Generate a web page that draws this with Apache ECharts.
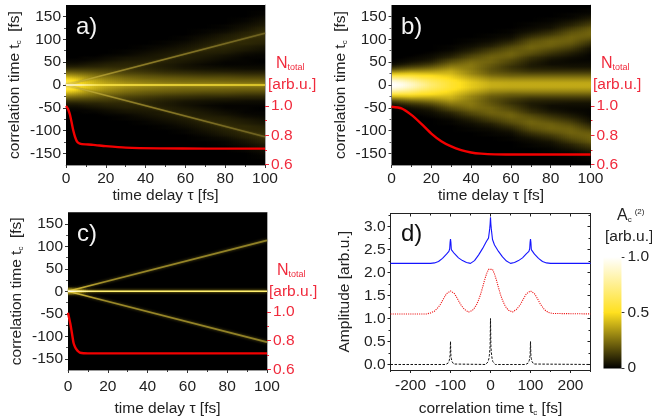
<!DOCTYPE html>
<html><head><meta charset="utf-8">
<style>html,body{margin:0;padding:0;background:#fff}#c{width:652px;height:418px}</style>
<script src="https://cdn.jsdelivr.net/npm/echarts@6/dist/echarts.min.js"></script>
</head><body><div id="c"></div>
<script>
// ---------- shared axes ----------
const tauColumns = [0,5,10,15,20,30,40,50,60,70,80,90,100];
const tcStep = 5; // rows of the profiles start at t_c = 0 and step by this
const tauTicks = [0,20,40,60,80,100];
const tauMinor = [10,30,50,70,90];
const tcTicks = [-150,-100,-50,0,50,100,150];
const tcMinor = [-125,-75,-25,25,75,125];
const nTicks = [0.6,0.8,1.0];
const nMinor = [0.7,0.9];
const dXTicks = [-200,-100,0,100,200];
const dXMinor = [-250,-150,-50,50,150,250];
const dYTicks = [0,0.5,1,1.5,2,2.5,3];
const dYMinor = [0.25,0.75,1.25,1.75,2.25,2.75,3.25];
const colorStops = [[0,'#000000'],[0.5,'#ffe01e'],[1,'#ffffff']];

// ---------- heat map profiles: one list per tauColumns entry, percent of full scale, t_c = 0,5,10... (mirrored for t_c<0) ----------
const heatA = [
 [65,62,55,46,36,27,19,12,7,4,2,1],
 [56,54,49,41,33,25,18,12,7,4,2,1],
 [46,45,41,35,29,23,17,12,8,5,3,1,1],
 [40,39,36,31,26,21,16,12,8,6,4,2,1],
 [36,35,32,28,24,19,15,12,9,7,5,3,2,1],
 [31,30,27,24,20,16,13,11,9,8,7,5,4,2,1,1],
 [28,27,25,21,18,14,11,9,8,8,7,6,5,4,3,2,1,1],
 [26,25,23,20,16,12,9,7,6,6,7,7,6,6,5,4,3,2,1,1],
 [25,24,22,19,15,11,8,5,4,4,5,6,7,7,7,6,5,4,3,2,1,1],
 [25,24,22,18,14,10,7,4,3,2,3,4,5,6,7,8,8,7,6,5,4,3,2,1,1],
 [24,24,21,18,14,10,6,4,2,1,1,2,3,4,6,7,8,9,9,8,7,6,5,3,2,1,1],
 [24,23,21,17,13,9,6,3,2,1,1,1,1,2,3,5,6,7,9,9,9,9,8,7,5,4,3,2,1,1],
 [24,23,21,17,13,9,6,3,2,1,0,0,1,1,2,3,4,5,7,8,9,10,10,10,9,8,6,5,4,3,2,1,1]
];
const heatB = [
 [100,97,88,74,58,42,28,16,8,3,1],
 [97,93,84,71,57,43,30,19,11,5,2,1],
 [88,85,77,67,56,44,33,22,14,8,4,2,1],
 [78,75,69,60,52,43,33,24,16,10,6,3,2,1],
 [68,66,62,56,50,42,34,26,19,13,8,5,3,2,1],
 [54,54,52,48,45,41,38,33,28,23,18,14,9,6,4,2,1,1],
 [45,45,42,38,34,30,29,27,27,26,24,21,17,14,10,7,5,3,2,1,1],
 [39,38,34,30,25,21,19,18,19,20,22,22,22,20,17,14,11,7,5,3,2,1,1],
 [38,37,33,28,22,18,14,12,11,13,15,17,20,22,22,20,18,15,11,8,5,3,2,1,1],
 [38,37,33,28,22,16,11,8,6,6,7,9,11,15,18,20,22,22,20,18,15,11,8,5,3,2,1,1],
 [38,37,33,28,22,16,11,7,5,3,3,4,6,9,12,15,18,21,22,22,20,17,13,10,7,4,3,2,1,1],
 [38,37,33,28,22,16,11,7,4,3,2,2,3,5,7,10,13,16,19,21,22,22,20,18,15,12,8,6,4,2,1,1],
 [38,37,33,28,22,16,11,7,4,3,2,1,1,1,2,3,4,7,10,13,17,20,22,22,21,19,15,12,9,6,4,2,1,1]
];
const heatC = [
 [85,30,3],[60,12,1],[10,1],[2],[],[],[],[],[],[],[],[],[]
];

// ---------- ridges (thin lines of the maps): tau, t_c ----------
const ridgeTau = [0,100];
const ridgeUpperA = [0,113];
const ridgeLowerA = [0,-113];
const ridgeCentre = [0,0];
const ridgeUpperC = [0,113];
const ridgeLowerC = [0,-113];

// ---------- N_total curves ----------
const nTauA = [0,0.3,1,2,3,3.7,4.5,5.4,6.2,7,8,10,13.7,20,30,47,70,100];
const nValA = [1.0,0.995,0.98,0.94,0.875,0.83,0.79,0.76,0.748,0.742,0.739,0.737,0.734,0.725,0.715,0.71,0.708,0.708];
const nTauB = [0,5,10,15,20,25,30,35,40,45,52,60,100];
const nValB = [0.995,0.984,0.939,0.878,0.811,0.759,0.723,0.698,0.682,0.674,0.669,0.668,0.668];
const nTauC = [0,1.15,2,2.8,3.6,4.5,5.3,6.2,7.8,10,100];
const nValC = [0.995,0.919,0.85,0.784,0.755,0.735,0.724,0.716,0.713,0.712,0.712];

// ---------- panel d ----------
const blackT = [-250,-112,-108,-106,-104,-103,-102,-101,-100,-99,-98,-97,-96,-94,-92,-88,-12,-8,-6,-4,-3,-2,-1,0,1,2,3,4,6,8,12,88,92,94,96,97,98,99,100,101,102,103,104,106,108,112,250];
const blackA = [0,0,0.01,0.03,0.06,0.09,0.13,0.2,0.5,0.2,0.13,0.09,0.06,0.03,0.01,0,0,0.03,0.06,0.13,0.19,0.27,0.4,1,0.4,0.27,0.19,0.13,0.06,0.03,0,0,0.01,0.03,0.06,0.09,0.13,0.2,0.5,0.2,0.13,0.09,0.06,0.03,0.01,0,0];
const redT = [-250,-160,-155,-150,-145,-140,-135,-130,-125,-120,-115,-110,-105,-100,-95,-90,-85,-80,-75,-70,-65,-60,-55,-50,-45,-40,-35,-30,-25,-20,-15,-10,-5,0,5,10,15,20,25,30,35,40,45,50,55,60,65,70,75,80,85,90,95,100,105,110,115,120,125,130,135,140,145,150,155,160,250];
const redA = [1.1,1.1,1.11,1.12,1.13,1.16,1.19,1.25,1.31,1.39,1.47,1.54,1.58,1.6,1.58,1.54,1.47,1.39,1.31,1.25,1.2,1.16,1.14,1.14,1.18,1.23,1.3,1.4,1.52,1.67,1.83,1.97,2.07,2.1,2.07,1.97,1.83,1.67,1.52,1.4,1.3,1.23,1.18,1.14,1.14,1.16,1.2,1.25,1.31,1.39,1.47,1.54,1.58,1.6,1.58,1.54,1.47,1.39,1.31,1.25,1.19,1.16,1.13,1.12,1.11,1.1,1.1];
const blueT = [-250,-150,-140,-130,-120,-110,-104,-102,-101,-100,-99,-98,-96,-90,-80,-70,-60,-50,-40,-30,-20,-10,-5,-2,-1,0,1,2,5,10,20,30,40,50,60,70,80,90,96,98,99,100,101,102,104,110,120,130,140,150,250];
const blueA = [2.2,2.2,2.21,2.24,2.31,2.4,2.46,2.52,2.66,2.73,2.66,2.5,2.46,2.41,2.32,2.26,2.22,2.2,2.26,2.38,2.52,2.68,2.75,2.95,3.05,3.2,3.05,2.95,2.72,2.6,2.46,2.34,2.25,2.2,2.22,2.26,2.32,2.41,2.46,2.52,2.66,2.73,2.66,2.5,2.46,2.4,2.31,2.24,2.21,2.2,2.2];

// ---------- text ----------
const tauName = 'time delay \u03c4 [fs]';
const tcName = 'correlation time t{s|c}  [fs]';
const ampName = 'Amplitude [arb.u.]';
const dXName = 'correlation time t{s|c} [fs]';

// ---------- helpers ----------
const FONT = '"Liberation Sans", Arial, sans-serif';
const INK = '#222222', RED = '#f02a3c', FS = 15.5;
const rich = {s:{fontSize:8,fontFamily:FONT,color:INK,verticalAlign:'bottom',padding:[7,0,0,0]}};
function mix(a,b,t){return Math.round(a+(b-a)*t);}
function hex(c){return [1,3,5].map(i=>parseInt(c.substr(i,2),16));}
function heat(v){
  v=Math.max(0,Math.min(1,v));
  for(let i=1;i<colorStops.length;i++){
    if(v<=colorStops[i][0]){
      const a=colorStops[i-1],b=colorStops[i],t=(v-a[0])/(b[0]-a[0]);
      const ca=hex(a[1]),cb=hex(b[1]);
      return 'rgb('+mix(ca[0],cb[0],t)+','+mix(ca[1],cb[1],t)+','+mix(ca[2],cb[2],t)+')';
    }
  }
  return colorStops[colorStops.length-1][1];
}
const ROWS=35;
// one column span of the map, painted as thin pixel-aligned strips with a vertical colour ramp
function makeRenderer(profiles){
  return function(p,api){
    const c=api.value(2);
    const a=api.coord([api.value(0),(ROWS+0.5)*tcStep]);
    const b=api.coord([api.value(1),-(ROWS+0.5)*tcStep]);
    const x0=Math.round(a[0]),x1=Math.round(b[0]),n=Math.max(1,Math.round((x1-x0)/2)),children=[];
    const step=(x1-x0)/n;
    for(let j=0;j<n;j++){
      const t=(j+0.5)/n,stops=[];
      for(let r=-ROWS;r<=ROWS;r++){
        const k=Math.abs(r),v=(profiles[c][k]||0)*(1-t)+(profiles[c+1][k]||0)*t;
        stops.push({offset:(r+ROWS+0.5)/(2*ROWS+1),color:heat(v/100)});
      }
      const xa=Math.round(x0+step*j),xb=Math.round(x0+step*(j+1));
      children.push({type:'rect',shape:{x:xa,y:a[1],width:xb-xa,height:b[1]-a[1]},
        style:{fill:{type:'linear',x:0,y:0,x2:0,y2:1,colorStops:stops}}});
    }
    return {type:'group',children:children};
  };
}
function hGrad(stops){return {type:'linear',x:0,y:0,x2:1,y2:0,colorStops:stops.map(s=>({offset:s[0],color:s[1]}))};}
const pairs=(xs,ys)=>xs.map((x,i)=>[x,ys[i]]);

const grids=[],xAxes=[],yAxes=[],series=[];
function baseAxis(g,o){
  return Object.assign({gridIndex:g,type:'value',splitLine:{show:false},scale:false,
    axisLine:{show:false,onZero:false},axisTick:{show:false},axisLabel:{show:false}},o);
}
function ticks(values,len,color,inside){return {show:true,customValues:values,length:len,inside:!!inside,lineStyle:{color:color,width:1}};}
function labels(values,color,margin,fmt){
  return {show:true,customValues:values,color:color,fontSize:FS,fontFamily:FONT,margin:margin,formatter:fmt,showMinLabel:true,showMaxLabel:true,hideOverlap:false};
}
function heatPanel(g,rect,profiles,ridges,nT,nV){
  grids.push(Object.assign({show:true,backgroundColor:'#000',borderWidth:0},rect));
  const xi=xAxes.length;
  xAxes.push(baseAxis(g,{min:0,max:100,position:'bottom',
    axisLine:{show:true,onZero:false,lineStyle:{color:'#999'}},
    axisTick:ticks(tauTicks,3,'#333'),axisLabel:labels(tauTicks,INK,rect.labelMargin),
    name:tauName,nameLocation:'middle',nameGap:rect.nameGap,
    nameTextStyle:{color:INK,fontSize:FS,fontFamily:FONT}}));
  xAxes.push(baseAxis(g,{min:0,max:100,position:'bottom',axisTick:ticks(tauMinor,2,'#333')}));
  const yi=yAxes.length;
  yAxes.push(baseAxis(g,{min:-175,max:175,position:'left',
    axisTick:ticks(tcTicks,3,'#333'),axisLabel:labels(tcTicks,INK,5),
    name:tcName,nameLocation:'middle',nameGap:43,
    nameTextStyle:{color:INK,fontSize:FS,fontFamily:FONT,rich:rich}}));
  yAxes.push(baseAxis(g,{min:-175,max:175,position:'left',axisTick:ticks(tcMinor,2,'#555')}));
  yAxes.push(baseAxis(g,{min:0.596,max:1.692,position:'right',
    axisLine:{show:true,onZero:false,lineStyle:{color:'#aaa'}},
    axisTick:ticks(nTicks,4,RED),axisLabel:labels(nTicks,RED,6,v=>v.toFixed(1))}));
  yAxes.push(baseAxis(g,{min:0.596,max:1.692,position:'right',axisTick:ticks(nMinor,2,RED)}));
  series.push({type:'custom',xAxisIndex:xi,yAxisIndex:yi,clip:true,silent:true,progressive:0,
    renderItem:makeRenderer(profiles),encode:{x:[0,1]},
    data:tauColumns.slice(0,-1).map((t,c)=>[t,tauColumns[c+1],c]),animation:false});
  ridges.forEach(r=>series.push({type:'line',xAxisIndex:xi,yAxisIndex:yi,silent:true,showSymbol:false,clip:true,
    data:pairs(ridgeTau,r.tc),z:3,
    lineStyle:{width:r.width,color:hGrad(r.stops),shadowBlur:r.blur,shadowColor:r.glow}}));
  series.push({type:'line',xAxisIndex:xi,yAxisIndex:yi+2,silent:true,showSymbol:false,clip:false,smooth:0.2,
    data:pairs(nT,nV),z:4,lineStyle:{width:2.4,color:'#f20000'}});
}

const diagA=[[0,'#ffe860'],[0.08,'#c8b232'],[0.3,'#907f28'],[1,'#6c6020']];
const centreA=[[0,'#ffffff'],[0.08,'#fff6c0'],[0.18,'#ffe94a'],[1,'#ecd42e']];
const diagC=[[0,'#ffec70'],[0.06,'#c8b034'],[0.2,'#9a8828'],[1,'#8f8026']];
const centreC=[[0,'#ffffff'],[0.06,'#fff8b0'],[0.15,'#fff070'],[1,'#fff070']];

heatPanel(0,{left:66,top:5,width:199,height:160,nameGap:23,labelMargin:6},heatA,[
  {tc:ridgeUpperA,width:1.6,stops:diagA,blur:2,glow:'rgba(120,105,25,0.6)'},
  {tc:ridgeLowerA,width:1.6,stops:diagA,blur:2,glow:'rgba(120,105,25,0.6)'},
  {tc:ridgeCentre,width:1.6,stops:centreA,blur:3,glow:'rgba(230,200,40,0.8)'}],nTauA,nValA);
heatPanel(1,{left:391.5,top:5,width:199,height:160,nameGap:23,labelMargin:6},heatB,[],nTauB,nValB);
heatPanel(2,{left:68,top:212.5,width:199,height:160,nameGap:31,labelMargin:9},heatC,[
  {tc:ridgeUpperC,width:1.8,stops:diagC,blur:3,glow:'rgba(130,115,28,0.8)'},
  {tc:ridgeLowerC,width:1.8,stops:diagC,blur:3,glow:'rgba(130,115,28,0.8)'},
  {tc:ridgeCentre,width:1.6,stops:centreC,blur:3,glow:'rgba(230,200,30,0.9)'}],nTauC,nValC);

// panel d
grids.push({left:390.5,top:213.5,width:200,height:160,show:true,backgroundColor:'#fff',borderWidth:0});
const dXi=xAxes.length,dYi=yAxes.length;
const frame={show:true,onZero:false,lineStyle:{color:'#222',width:1}};
xAxes.push(baseAxis(3,{min:-250,max:250,position:'bottom',axisLine:frame,axisTick:ticks(dXTicks,3,'#222'),
  axisLabel:labels(dXTicks,INK,8),name:dXName,nameLocation:'middle',nameGap:31,
  nameTextStyle:{color:INK,fontSize:FS,fontFamily:FONT,rich:rich}}));
xAxes.push(baseAxis(3,{min:-250,max:250,position:'bottom',axisTick:ticks(dXMinor,2,'#222')}));
xAxes.push(baseAxis(3,{min:-250,max:250,position:'top',axisLine:frame,axisTick:ticks(dXTicks,3,'#222',true)}));
xAxes.push(baseAxis(3,{min:-250,max:250,position:'top',axisTick:ticks(dXMinor,2,'#222',true)}));
yAxes.push(baseAxis(3,{min:-0.12,max:3.285,position:'left',axisLine:frame,axisTick:ticks(dYTicks,3,'#222'),
  axisLabel:labels(dYTicks,INK,5,v=>v.toFixed(1)),name:ampName,nameLocation:'middle',nameGap:38,
  nameTextStyle:{color:INK,fontSize:FS,fontFamily:FONT}}));
yAxes.push(baseAxis(3,{min:-0.12,max:3.285,position:'left',axisTick:ticks(dYMinor,2,'#222')}));
yAxes.push(baseAxis(3,{min:-0.12,max:3.285,position:'right',axisLine:frame,axisTick:ticks(dYTicks,3,'#222',true)}));
yAxes.push(baseAxis(3,{min:-0.12,max:3.285,position:'right',axisTick:ticks(dYMinor,2,'#222',true)}));
[[blueT,blueA,'#1414ff','solid',1.1],[redT,redA,'#ee1111','dotted',1.1],[blackT,blackA,'#111111',[2.5,1.5],1]].forEach(s=>{
  series.push({type:'line',xAxisIndex:dXi,yAxisIndex:dYi,silent:true,showSymbol:false,
    data:pairs(s[0],s[1]),lineStyle:{color:s[2],type:s[3],width:s[4]}});
});

// colour bar
grids.push({left:603.5,top:257,width:22.5,height:111,show:false});
const cXi=xAxes.length,cYi=yAxes.length;
xAxes.push(baseAxis(4,{min:0,max:1,position:'bottom',show:false}));
yAxes.push(baseAxis(4,{min:0,max:1,interval:0.5,position:'right',
  axisTick:{show:true,length:3,lineStyle:{color:'#333'}},
  axisLabel:{show:true,color:INK,fontSize:FS,fontFamily:FONT,margin:6,formatter:v=>v===0?'0':v.toFixed(1)}}));
series.push({type:'custom',xAxisIndex:cXi,yAxisIndex:cYi,silent:true,clip:false,encode:{y:[0,1]},
  data:colorStops.slice(1).map((s,i)=>[colorStops[i][0],s[0]]),
  renderItem:function(p,api){
    const lo=api.value(0),hi=api.value(1);
    const a=api.coord([0,hi]),b=api.coord([1,lo]);
    return {type:'rect',shape:{x:a[0],y:a[1],width:b[0]-a[0],height:b[1]-a[1]+0.5},
      style:{fill:{type:'linear',x:0,y:1,x2:0,y2:0,colorStops:[{offset:0,color:heat(lo)},{offset:1,color:heat(hi)}]}}};
  }});

// text labels
function txt(x,y,text,size,color,extra){
  return {type:'text',left:x,top:y,z:20,silent:true,style:Object.assign({text:text,fontSize:size,fontFamily:FONT,fill:color},extra||{})};
}
const redRich={rich:{s:{fontSize:9,fontFamily:FONT,fill:RED,color:RED,verticalAlign:'bottom',padding:[8,0,0,0]}}};
const graphics=[
  txt(76,15,'a)',24,'#f4f4f4'),txt(401,15,'b)',24,'#f4f4f4'),txt(77,222,'c)',24,'#f4f4f4'),txt(401,222,'d)',24,'#111'),
  txt(276,56,'N{s|total}',16,RED,redRich),txt(268,77,'[arb.u.]',15.5,RED),
  txt(601,56,'N{s|total}',16,RED,redRich),txt(593,77,'[arb.u.]',15.5,RED),
  txt(277,263,'N{s|total}',16,RED,redRich),txt(269,284,'[arb.u.]',15.5,RED),
  txt(617,208,'A{s|c}{p|(2)}',16,INK,{rich:{s:{fontSize:8,fontFamily:FONT,fill:INK,color:INK,verticalAlign:'bottom',padding:[7,0,0,0]},p:{fontSize:8,fontFamily:FONT,fill:INK,color:INK,verticalAlign:'top',padding:[0,0,6,3]}}}),
  txt(605,229,'[arb.u.]',15.5,INK)
];

const chart=echarts.init(document.getElementById('c'),null,{renderer:'canvas'});
chart.setOption({animation:false,backgroundColor:'#fff',grid:grids,xAxis:xAxes,yAxis:yAxes,series:series,graphic:{elements:graphics}});
</script></body></html>
